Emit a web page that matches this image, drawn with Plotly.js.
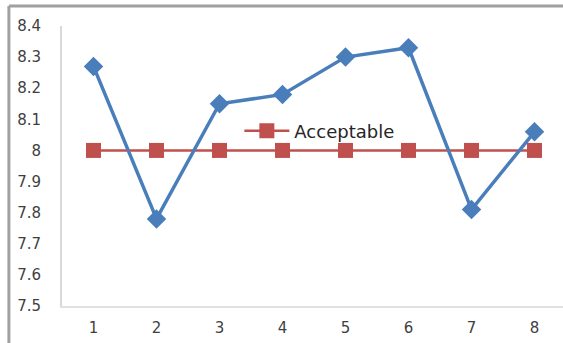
<!DOCTYPE html>
<html>
<head>
<meta charset="utf-8">
<script src="https://cdn.plot.ly/plotly-3.0.1.min.js"></script>
<style>
  html, body { margin: 0; padding: 0; background: #ffffff; }
  #chart { width: 563px; height: 343px; }
</style>
</head>
<body>
<div id="chart"></div>
<script>
// Samples 1..8 with measured values and the acceptable level
const samples = [1, 2, 3, 4, 5, 6, 7, 8];
const measured = [8.27, 7.78, 8.15, 8.18, 8.30, 8.33, 7.81, 8.06];
const acceptable = [8, 8, 8, 8, 8, 8, 8, 8];
const yTicks = [7.5, 7.6, 7.7, 7.8, 7.9, 8, 8.1, 8.2, 8.3, 8.4];
const yTickText = ['7.5', '7.6', '7.7', '7.8', '7.9', '8', '8.1', '8.2', '8.3', '8.4'];

const fontFamily = '"DejaVu Sans", Verdana, sans-serif';

const traces = [
  {
    x: samples,
    y: acceptable,
    name: 'Acceptable',
    type: 'scatter',
    mode: 'lines+markers',
    line: { color: '#C0504D', width: 2.5 },
    marker: { symbol: 'square', size: 15, color: '#C0504D' },
    showlegend: true
  },
  {
    x: samples,
    y: measured,
    name: 'Measured',
    type: 'scatter',
    mode: 'lines+markers',
    line: { color: '#4A7EBB', width: 3.5 },
    marker: { symbol: 'diamond', size: 15, color: '#4A7EBB' },
    showlegend: false
  }
];

const layout = {
  width: 563,
  height: 343,
  margin: { l: 62, r: 0, t: 26, b: 37 },
  paper_bgcolor: '#ffffff',
  plot_bgcolor: '#ffffff',
  font: { family: fontFamily, size: 15, color: '#3f3f3f' },
  showlegend: true,
  legend: {
    x: 0.354,
    y: 0.625,
    xanchor: 'left',
    yanchor: 'middle',
    itemwidth: 45,
    bgcolor: 'rgba(0,0,0,0)',
    font: { family: fontFamily, size: 18, color: '#262626' }
  },
  xaxis: {
    range: [0.5, 8.452],
    tickvals: samples,
    ticktext: samples.map(String),
    showgrid: false,
    zeroline: false,
    showline: true,
    linecolor: '#e0e0e0',
    linewidth: 2,
    ticks: '',
    ticklabelstandoff: 7,
    fixedrange: true
  },
  yaxis: {
    range: [7.5, 8.4],
    tickvals: yTicks,
    ticktext: yTickText,
    showgrid: false,
    zeroline: false,
    showline: true,
    linecolor: '#d9d9d9',
    linewidth: 2,
    ticks: '',
    ticklabelstandoff: 16,
    fixedrange: true
  },
  shapes: [
    // frame edges around the chart
    { type: 'line', xref: 'paper', yref: 'paper', x0: -0.106, x1: 1.01, y0: 1.0714, y1: 1.0714,
      line: { color: '#a0a0a0', width: 3 } },
    { type: 'line', xref: 'paper', yref: 'paper', x0: -0.106, x1: -0.106, y0: 1.0714, y1: -0.14,
      line: { color: '#a0a0a0', width: 3 } }
  ]
};

Plotly.newPlot('chart', traces, layout, { displayModeBar: false, staticPlot: true });
</script>
</body>
</html>
